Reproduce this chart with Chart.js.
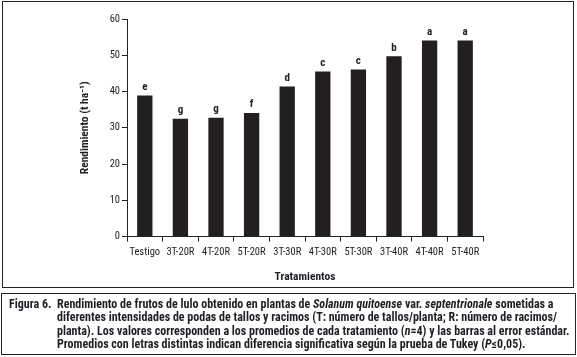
<!DOCTYPE html>
<html>
<head>
<meta charset="utf-8">
<script src="https://cdn.jsdelivr.net/npm/chart.js@4.4.1/dist/chart.umd.min.js"></script>
<style>
  body { margin:0; background:#fff; width:577px; height:357px; position:relative; overflow:hidden;
         font-family:"Liberation Sans Narrow","Roboto Condensed","Liberation Sans",Arial,sans-serif; color:#1e1e24; }
  #plot { position:absolute; left:0; top:0; }
  #chartBox { position:absolute; left:2px; top:1px; width:570px; height:285px; border:1px solid #222; pointer-events:none; }
  #caption { position:absolute; left:1px; top:293px; width:573px; height:60px; border:1px solid #222;
             font-weight:bold; font-size:12px; line-height:13.3px; }
  #caption .lab { position:absolute; left:7px; top:4px; }
  #caption .txt { position:absolute; left:55px; top:4px; white-space:nowrap; }
</style>
</head>
<body>
<canvas id="plot" width="577" height="290"></canvas>
<div id="chartBox"></div>
<div id="caption">
  <div class="lab">Figura 6.</div>
  <div class="txt">Rendimiento de frutos de lulo obtenido en plantas de <i>Solanum quitoense</i> var. <i>septentrionale</i> sometidas a<br>diferentes intensidades de podas de tallos y racimos (T: número de tallos/planta; R: número de racimos/<br>planta). Los valores corresponden a los promedios de cada tratamiento (<i>n</i>=4) y las barras al error estándar.<br>Promedios con letras distintas indican diferencia significativa según la prueba de Tukey (<i>P</i>≤0,05).</div>
</div>
<script>
var tratamientos = ["Testigo", "3T-20R", "4T-20R", "5T-20R", "3T-30R", "4T-30R", "5T-30R", "3T-40R", "4T-40R", "5T-40R"];
var rendimiento = [38.9, 32.5, 32.8, 34.1, 41.4, 45.5, 46.1, 49.7, 54.1, 54.1];
var letras = ["e", "g", "g", "f", "d", "c", "c", "b", "a", "a"];

var fontFam = '"Liberation Sans Narrow","Roboto Condensed","Liberation Sans",Arial,sans-serif';
var ink = "#1e1e24";

// letters of the Tukey test above each bar
var letrasPlugin = {
  id: "letras",
  afterDatasetsDraw: function(chart) {
    var ctx = chart.ctx;
    var meta = chart.getDatasetMeta(0);
    ctx.save();
    ctx.font = "bold 11px " + fontFam;
    ctx.fillStyle = ink;
    ctx.textAlign = "center";
    ctx.textBaseline = "bottom";
    meta.data.forEach(function(bar, i) {
      ctx.fillText(letras[i], bar.x, bar.y - 3);
    });
    ctx.restore();
  }
};

var ctx = document.getElementById("plot");
var grafico = new Chart(ctx, {
  type: "bar",
  data: {
    labels: tratamientos,
    datasets: [{
      label: "Rendimiento",
      data: rendimiento,
      backgroundColor: "#231f20",
      borderWidth: 0,
      barPercentage: 0.43,
      categoryPercentage: 1.0
    }]
  },
  options: {
    responsive: false,
    animation: false,
    layout: { padding: { left: 78, right: 94, top: 19, bottom: 6 } },
    plugins: { legend: { display: false }, tooltip: { enabled: false } },
    scales: {
      x: {
        offset: true,
        grid: { display: true, drawOnChartArea: false, drawTicks: true, tickLength: 5, color: "#222", offset: true },
        border: { display: true, color: "#222", width: 1 },
        ticks: { color: ink, font: { family: fontFam, size: 10.5 }, padding: 4, maxRotation: 0, autoSkip: false },
        title: { display: true, text: "Tratamientos", color: ink, font: { family: fontFam, size: 11.5, weight: "bold" }, padding: { top: 8, bottom: 0 } }
      },
      y: {
        min: 0,
        max: 60,
        ticks: { stepSize: 10, color: ink, font: { family: fontFam, size: 10.5 }, padding: 2 },
        grid: { display: true, drawOnChartArea: false, drawTicks: true, tickLength: 5, color: "#222" },
        border: { display: true, color: "#222", width: 1 },
        title: { display: true, text: "Rendimiento (t ha⁻¹)", color: ink, font: { family: fontFam, size: 11.5, weight: "bold" }, padding: { top: 0, bottom: 10 } },
        afterFit: function(scale) { scale.width = 49; }
      }
    }
  },
  plugins: [letrasPlugin]
});
</script>
</body>
</html>
